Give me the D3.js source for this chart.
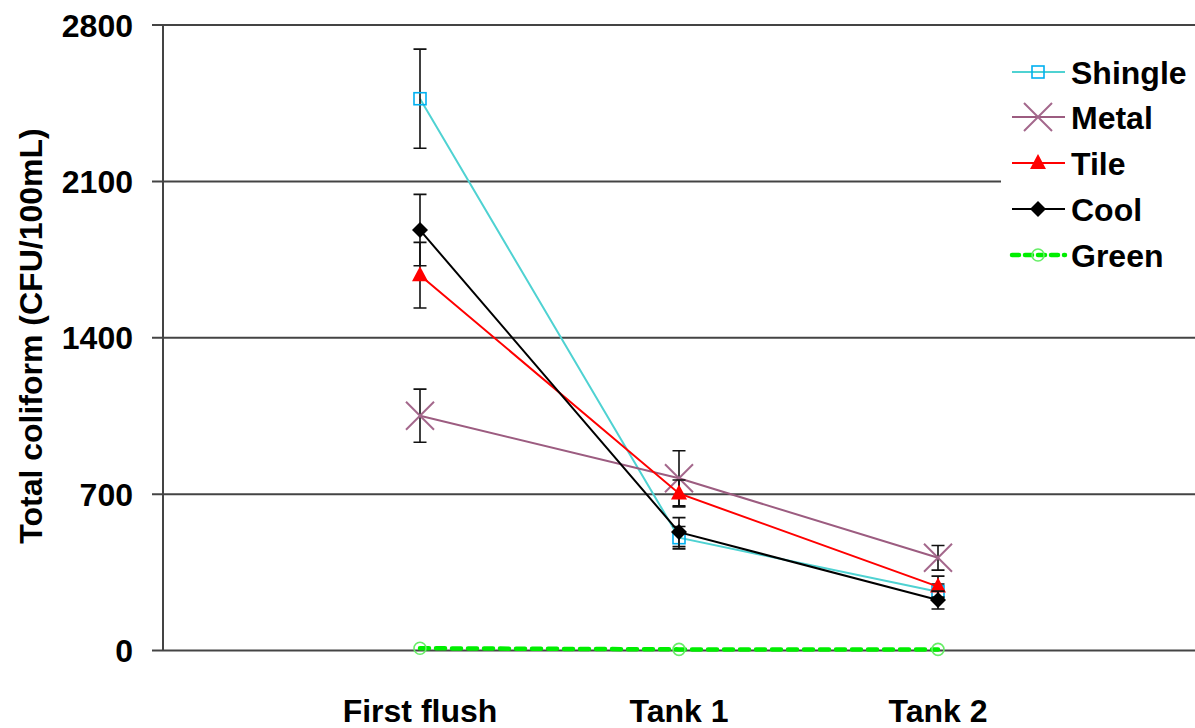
<!DOCTYPE html>
<html><head><meta charset="utf-8">
<script src="https://cdn.jsdelivr.net/npm/d3@7"></script>
<style>body{margin:0;background:#fff}svg{display:block}text{font-family:"Liberation Sans",Arial,sans-serif;font-weight:bold;fill:#000}</style>
</head><body><svg id="c" width="1195" height="728"></svg>
<script>
const categories = ["First flush", "Tank 1", "Tank 2"];
const yTicks = [0, 700, 1400, 2100, 2800];
const seriesNames = ["Shingle", "Metal", "Tile", "Cool", "Green"];
const shingle = [2470, 505, 263];
const shingleErr = [222, 50, 35];
const metal = [1051, 771, 415];
const metalErr = [119, 123, 55];
const tile = [1680, 703, 286];
const tileErr = [147, 60, 47];
const cool = [1882, 530, 226];
const coolErr = [160, 65, 40];
const green = [10, 5, 5];
const greenErr = [0, 0, 0];

const values = [shingle, metal, tile, cool, green];
const errs = [shingleErr, metalErr, tileErr, coolErr, greenErr];
const colors = ["#4fd2d2", "#9c5c80", "#ff0000", "#000000", "#00ee00"];
const markColors = ["#00b0f0", "#a4688c", "#ff0000", "#000000", "#66ee66"];

const svg = d3.select("#c");
const W = 1195;
const AX = 163;
const x = d3.scalePoint().domain(categories).range([420, 938]);
const y = d3.scaleLinear().domain([0, 2800]).range([650.5, 25]);

// gridlines
svg.append("g").selectAll("line").data(yTicks).join("line")
  .attr("x1", AX - 11).attr("x2", W).attr("y1", d => y(d)).attr("y2", d => y(d))
  .attr("stroke", "#444").attr("stroke-width", 2);
// y axis line
svg.append("line").attr("x1", AX).attr("x2", AX).attr("y1", y(2800)).attr("y2", y(0))
  .attr("stroke", "#444").attr("stroke-width", 2);
// y tick labels
svg.append("g").selectAll("text").data(yTicks).join("text")
  .attr("x", 133).attr("y", d => y(d)).attr("dy", "0.36em").attr("text-anchor", "end")
  .attr("font-size", 32).text(d => d);
// x labels
svg.append("g").selectAll("text").data(categories).join("text")
  .attr("x", d => x(d)).attr("y", 722).attr("text-anchor", "middle")
  .attr("font-size", 32).text(d => d);
// y title
svg.append("text").attr("transform", "translate(42,336) rotate(-90)")
  .attr("text-anchor", "middle").attr("font-size", 32).text("Total coliform (CFU/100mL)");

// legend background (covers gridline)
svg.append("rect").attr("x", 1001).attr("y", 45).attr("width", W - 1001).attr("height", 232).attr("fill", "#fff");

function marker(g, i, cx, cy) {
  const c = markColors[i];
  if (i === 0) g.append("rect").attr("x", cx - 6).attr("y", cy - 6).attr("width", 12).attr("height", 12)
    .attr("fill", "none").attr("stroke", c).attr("stroke-width", 1.6);
  else if (i === 1) g.append("path").attr("d", `M${cx-14},${cy-14}L${cx+14},${cy+14}M${cx-14},${cy+14}L${cx+14},${cy-14}`)
    .attr("stroke", c).attr("stroke-width", 2);
  else if (i === 2) g.append("path").attr("d", `M${cx},${cy-9}L${cx+8},${cy+6}L${cx-8},${cy+6}Z`).attr("fill", c);
  else if (i === 3) g.append("path").attr("d", `M${cx},${cy-8}L${cx+8},${cy}L${cx},${cy+8}L${cx-8},${cy}Z`).attr("fill", c);
  else g.append("circle").attr("cx", cx).attr("cy", cy).attr("r", 6).attr("fill", "none").attr("stroke", c).attr("stroke-width", 1.6);
}

const line = d3.line().x((d, j) => x(categories[j])).y(d => y(d));
values.forEach((vals, i) => {
  const g = svg.append("g");
  const p = g.append("path").attr("d", line(vals)).attr("fill", "none").attr("stroke", colors[i]);
  if (i === 4) p.attr("stroke-width", 4.5).attr("stroke-dasharray", "9,7").attr("stroke-linecap", "round");
  else p.attr("stroke-width", 2);
  vals.forEach((v, j) => {
    const e = errs[i][j];
    if (!e) return;
    const cx = x(categories[j]);
    g.append("path").attr("d", `M${cx},${y(v + e)}V${y(v - e)}M${cx-6.5},${y(v + e)}H${cx+6.5}M${cx-6.5},${y(v - e)}H${cx+6.5}`)
      .attr("stroke", "#111").attr("stroke-width", 1.6).attr("fill", "none");
  });
  vals.forEach((v, j) => marker(g, i, x(categories[j]), y(v)));
});

// legend
const ly = [72, 117, 163, 209, 255];
seriesNames.forEach((n, i) => {
  const g = svg.append("g");
  const l = g.append("line").attr("x1", 1012).attr("x2", 1065).attr("y1", ly[i]).attr("y2", ly[i]).attr("stroke", colors[i]);
  if (i === 4) l.attr("stroke-width", 4.5).attr("stroke-dasharray", "7,6").attr("stroke-linecap", "round");
  else l.attr("stroke-width", 2);
  marker(g, i, 1038, ly[i]);
  g.append("text").attr("x", 1071).attr("y", ly[i]).attr("dy", "0.36em").attr("font-size", 32).text(n);
});
</script></body></html>
